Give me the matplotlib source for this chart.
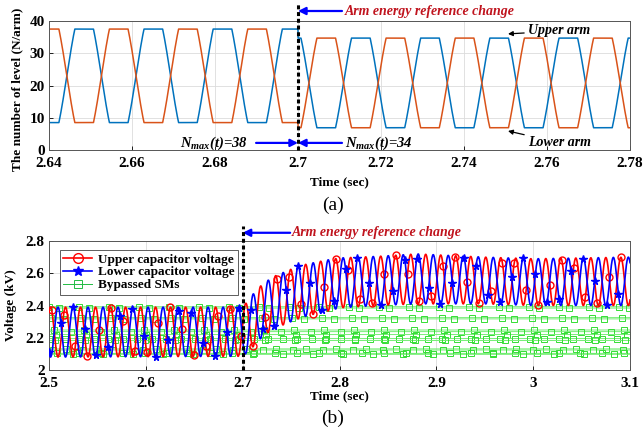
import numpy as np
import matplotlib.pyplot as plt

plt.rcParams['font.family'] = 'Liberation Serif'
plt.rcParams['font.weight'] = 'bold'
plt.rcParams['mathtext.fontset'] = 'custom'
plt.rcParams['mathtext.it'] = 'Liberation Serif:italic:bold'
plt.rcParams['mathtext.rm'] = 'Liberation Serif:italic:bold'

# ---- (a) number of inserted levels per arm ----
arm_xticks = [2.64, 2.66, 2.68, 2.70, 2.72, 2.74, 2.76, 2.78]
arm_xlabels = ['2.64', '2.66', '2.68', '2.7', '2.72', '2.74', '2.76', '2.78']
arm_yticks = [0, 10, 20, 30, 40]
arm_period = 1 / 60          # sec
arm_cross = 2.6443           # rising crossing of the upper arm
arm_change = 2.70            # energy reference step
arm_hi = [37.5, 34.7]        # top plateau before / after the step
arm_lo = [8.5, 6.9]          # bottom plateau before / after the step
arm_flat = 0.27              # share of a cycle spent on each plateau

# ---- (b) capacitor voltages ----
cap_xticks = [2.5, 2.6, 2.7, 2.8, 2.9, 3.0, 3.1]
cap_xlabels = ['2.5', '2.6', '2.7', '2.8', '2.9', '3', '3.1']
cap_yticks = [2.0, 2.2, 2.4, 2.6, 2.8]
cap_ylabels = ['2', '2.2', '2.4', '2.6', '2.8']
cap_period = 0.0155
cap_peak = 2.5093            # a peak of the lower capacitor voltage
env_t = [2.5, 2.70, 2.708, 2.716, 2.723, 2.73, 2.738, 2.746, 2.754, 2.761,
         2.769, 2.777, 2.785, 2.80, 2.84, 2.88, 2.95, 3.0, 3.1]
env_hi = [2.39, 2.39, 2.45, 2.51, 2.54, 2.575, 2.595, 2.615, 2.635, 2.65,
          2.66, 2.67, 2.68, 2.695, 2.705, 2.72, 2.70, 2.69, 2.70]
env_lo = [2.08, 2.085, 2.125, 2.18, 2.22, 2.245, 2.27, 2.29, 2.31, 2.325,
          2.34, 2.35, 2.36, 2.385, 2.40, 2.41, 2.41, 2.40, 2.40]
bypass_v = [2.392, 2.384, 2.325, 2.317, 2.248, 2.238, 2.220, 2.195, 2.183,
            2.131, 2.124, 2.103, 2.097]

# ---------------- waveforms ----------------
t_a = np.arange(2.64, 2.78 + 1e-6, 1e-5)
after = t_a >= arm_change
hi = np.where(after, arm_hi[1], arm_hi[0])
lo = np.where(after, arm_lo[1], arm_lo[0])
amp = (hi - lo) / 2 / np.cos(np.pi * arm_flat)
upper_arm = np.clip((hi + lo) / 2 + amp * np.sin(2 * np.pi * (t_a - arm_cross) / arm_period), lo, hi)
lower_arm = hi + lo - upper_arm

dt = 0.00025
t_b = np.arange(2.5, 3.1 + dt / 2, dt)
mid = (np.interp(t_b, env_t, env_hi) + np.interp(t_b, env_t, env_lo)) / 2
half = (np.interp(t_b, env_t, env_hi) - np.interp(t_b, env_t, env_lo)) / 2
wave = np.cos(2 * np.pi * (t_b - cap_peak) / cap_period)
v_lower = mid + half * wave
v_upper = mid - half * wave

fig = plt.figure(figsize=(6.44, 4.36), dpi=100)
ax1 = fig.add_axes([49 / 644, 1 - 150 / 436, 581 / 644, 129 / 436])
ax2 = fig.add_axes([49 / 644, 1 - 370 / 436, 581 / 644, 129 / 436])

for ax in (ax1, ax2):
    ax.grid(True, color='#DCDCDC', lw=0.6)
    ax.set_axisbelow(True)
    ax.tick_params(direction='in', length=3, width=0.6, labelsize=11, pad=3)
    ax.tick_params(axis='x', pad=5)
    for s in ax.spines.values():
        s.set_color('#555555')
        s.set_linewidth(0.7)

# (a)
ax1.plot(t_a, upper_arm, color='#0072BD', lw=1.1)
ax1.plot(t_a, lower_arm, color='#D95319', lw=1.1)
ax1.set_xlim(2.64, 2.78)
ax1.set_ylim(0, 40)
ax1.set_xticks(arm_xticks, arm_xlabels)
ax1.set_yticks(arm_yticks)
ax1.set_xlabel('Time (sec)', fontsize=9.5, fontweight='bold')
ax1.set_ylabel('The number of level (N/arm)', fontsize=9.5, fontweight='bold')
ax1.xaxis.set_label_coords(0.5, -0.2)
ax1.yaxis.set_label_coords(-0.045, 0.47)

ax1.plot([arm_change, arm_change], [0, 45.5], color='k', lw=2.2,
         linestyle=(0, (1.3, 0.9)), clip_on=False, zorder=5)
ax1.annotate('', xy=(2.7, 43.1), xytext=(2.7106, 43.1), annotation_clip=False,
             arrowprops=dict(arrowstyle='-|>', color='blue', lw=1.6, mutation_scale=11, shrinkA=0, shrinkB=0))
ax1.text(2.7113, 43.1, 'Arm energy reference change', color='#C0141E', style='italic',
         fontweight='bold', fontsize=10, va='center', clip_on=False)
ax1.annotate('', xy=(2.7, 2.2), xytext=(2.6899, 2.2), annotation_clip=False,
             arrowprops=dict(arrowstyle='-|>', color='blue', lw=1.6, mutation_scale=11, shrinkA=0, shrinkB=0))
ax1.annotate('', xy=(2.7, 2.2), xytext=(2.7106, 2.2), annotation_clip=False,
             arrowprops=dict(arrowstyle='-|>', color='blue', lw=1.6, mutation_scale=11, shrinkA=0, shrinkB=0))
ax1.text(2.688, 2.2, r'$N_{max}(t)$=38', style='italic', fontweight='bold', fontsize=10.5,
         ha='right', va='center')
ax1.text(2.7113, 2.2, r'$N_{max}(t)$=34', style='italic', fontweight='bold', fontsize=10.5,
         ha='left', va='center')
ax1.annotate('Upper arm', xy=(2.7506, 36.0), xytext=(2.7555, 36.9), style='italic',
             fontweight='bold', fontsize=10, va='center',
             arrowprops=dict(arrowstyle='-|>', color='k', lw=0.9, mutation_scale=7, shrinkA=1, shrinkB=0))
ax1.annotate('Lower arm', xy=(2.7506, 5.9), xytext=(2.7555, 2.2), style='italic',
             fontweight='bold', fontsize=10, va='center',
             arrowprops=dict(arrowstyle='-|>', color='k', lw=0.9, mutation_scale=7, shrinkA=1, shrinkB=0))

# (b)
steps = [124, 124, 124, 124, 124, 124, 124, 60, 124, 124, 124, 90, 124]
offsets = [0, 40, 10, 60, 20, 90, 30, 5, 25, 70, 15, 35, 100]
for i, v in enumerate(bypass_v):
    ax2.plot(t_b, np.full_like(t_b, v), color='#77EE77', lw=0.7, marker='s', ms=3.8,
             mfc='none', mec='#33DD33', mew=0.7, markevery=(offsets[i], steps[i]),
             zorder=2, label='Bypassed SMs' if i == 0 else None)
ax2.plot(t_b, v_upper, color='#FF0000', lw=1.2, marker='o', ms=5, mfc='none',
         mew=1.0, markevery=(11, 49), zorder=3, label='Upper capacitor voltage')
ax2.plot(t_b, v_lower, color='#0000FF', lw=1.2, marker='*', ms=5.5,
         markevery=(0, 49), zorder=3, label='Lower capacitor voltage')
ax2.set_xlim(2.5, 3.1)
ax2.set_ylim(2.0, 2.8)
ax2.set_xticks(cap_xticks, cap_xlabels)
ax2.set_yticks(cap_yticks, cap_ylabels)
ax2.set_xlabel('Time (sec)', fontsize=9.5, fontweight='bold')
ax2.set_ylabel('Voltage (kV)', fontsize=9.5, fontweight='bold')
ax2.xaxis.set_label_coords(0.5, -0.16)
ax2.yaxis.set_label_coords(-0.055, 0.5)

h, lab = ax2.get_legend_handles_labels()
order = [lab.index('Upper capacitor voltage'), lab.index('Lower capacitor voltage'), lab.index('Bypassed SMs')]
leg = ax2.legend([h[k] for k in order], [lab[k] for k in order], loc='upper left',
                 bbox_to_anchor=(0.019, 0.93), borderaxespad=0, prop={'weight': 'bold', 'size': 9.5},
                 fancybox=False, edgecolor='#444444', framealpha=1, borderpad=0.25,
                 labelspacing=0.05, handlelength=2.2, handletextpad=0.4, markerscale=1.4)
leg.get_frame().set_linewidth(0.6)
leg.set_zorder(6)
leg.legend_handles[2].set_color('#22BB44')
leg.legend_handles[2].set_markeredgecolor('#22BB44')

ax2.plot([2.7, 2.7], [2.0, 2.89], color='k', lw=2.2, linestyle=(0, (1.3, 0.9)),
         clip_on=False, zorder=5)
ax2.annotate('', xy=(2.7, 2.851), xytext=(2.749, 2.851), annotation_clip=False,
             arrowprops=dict(arrowstyle='-|>', color='blue', lw=1.6, mutation_scale=11, shrinkA=0, shrinkB=0))
ax2.text(2.751, 2.851, 'Arm energy reference change', color='#C0141E', style='italic',
         fontweight='bold', fontsize=10, va='center', clip_on=False)

fig.text(333 / 644, 1 - 205 / 436, '(a)', ha='center', va='center', fontsize=14, fontweight='normal')
fig.text(333 / 644, 1 - 418 / 436, '(b)', ha='center', va='center', fontsize=14, fontweight='normal')

fig.savefig('out.png', dpi=100)
